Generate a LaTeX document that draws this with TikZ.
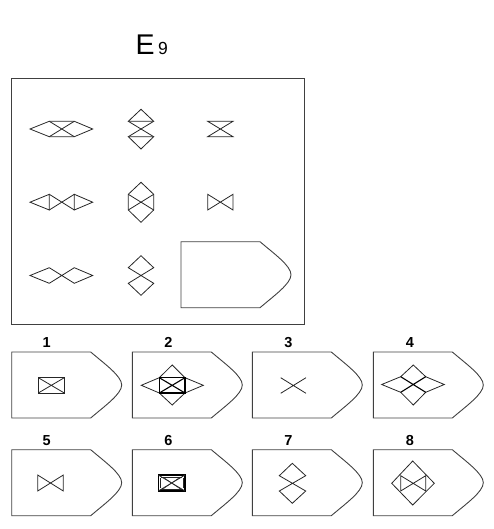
\documentclass[tikz,border=0pt]{standalone}
\usepackage{fontspec}
\setmainfont{Liberation Sans}
\begin{document}
\begin{tikzpicture}[x=1pt,y=-1pt,
  fig/.style={line width=0.8pt,draw=black!85,line join=miter},
  boxline/.style={line width=0.9pt,draw=black!75},
  thick fig/.style={line width=1.1pt,draw=black},
  lbl/.style={anchor=base,font=\bfseries\fontsize{14.5}{14.5}\selectfont,inner sep=0pt},
  ansbox/.pic={\draw[boxline] (0,0) -- (79,0) .. controls (93,12) and (110,24) .. (110,33)
     .. controls (110,42) and (93,54) .. (79,66) -- (0,66) -- cycle;}]
\useasboundingbox (0,0) rectangle (494,529);
% title
\node[anchor=base west,inner sep=0pt,font=\fontsize{28.5}{28.5}\selectfont] (tE) at (135.5,54.3) {E};
\node[anchor=base west,inner sep=0pt,font=\fontsize{17.5}{17.5}\selectfont] (t9) at (157.8,54.3) {9};
% main box
\draw[line width=1pt,draw=black!75] (11,79) rectangle (304.5,324);
% row 1
\draw[fig] (30,129) -- (49.3,121.3) -- (74.3,121.3) -- (92.7,129) -- (74.3,136.7) -- (49.3,136.7) -- cycle;
\draw[fig] (49.3,121.3) -- (74.3,136.7) (74.3,121.3) -- (49.3,136.7);
\draw[fig] (128.3,121.3) -- (141,109.3) -- (153.7,121.3) -- cycle;
\draw[fig] (128.3,136.7) -- (141,149) -- (153.7,136.7) -- cycle;
\draw[fig] (128.3,121.3) -- (153.7,136.7) (153.7,121.3) -- (128.3,136.7);
\draw[fig] (207.7,121.3) -- (233,121.3) -- (207.7,136.7) -- (233,136.7) -- cycle;
% row 2
\draw[fig] (30,202.2) -- (49.3,194.3) -- (49.3,210) -- cycle;
\draw[fig] (49.3,194.3) -- (74.3,210) (74.3,194.3) -- (49.3,210);
\draw[fig] (74.3,194.3) -- (92.7,202.2) -- (74.3,210) -- cycle;
\draw[fig] (141,182.3) -- (153.7,194.3) -- (153.7,210) -- (141,222.3) -- (128.3,210) -- (128.3,194.3) -- cycle;
\draw[fig] (128.3,194.3) -- (153.7,210) (153.7,194.3) -- (128.3,210);
\draw[fig] (207.7,194.3) -- (233,210) -- (233,194.3) -- (207.7,210) -- cycle;
% row 3
\draw[fig] (30,275.5) -- (49.3,267.7) -- (74.3,283.3) -- (92.7,275.5) -- (74.3,267.7) -- (49.3,283.3) -- cycle;
\draw[fig] (141,255.7) -- (153.7,267.7) -- (128.3,283.3) -- (141,295.3) -- (153.7,283.3) -- (128.3,267.7) -- cycle;
\pic at (181,241.7) {ansbox};
% answer boxes, row 1
\pic at (11.7,352) {ansbox};
\pic at (132.3,352) {ansbox};
\pic at (252.3,352) {ansbox};
\pic at (373.3,352) {ansbox};
\node[lbl] (l1) at (46.7,347.7) {1};
\node[lbl] (l2) at (168.3,347.7) {2};
\node[lbl] (l3) at (288.3,347.7) {3};
\node[lbl] (l4) at (410,347.7) {4};
% option 1
\draw[fig] (38.3,377.7) rectangle (64.3,393);
\draw[fig] (38.3,377.7) -- (64.3,393) (64.3,377.7) -- (38.3,393);
% option 2
\draw[fig] (159.3,377.7) -- (141.3,385.3) -- (159.3,393) -- (172.2,405) -- (185,393) -- (203.3,385.3) -- (185,377.7) -- (172.2,365) -- cycle;
\draw[thick fig] (159.3,377.7) rectangle (185,393);
\draw[thick fig] (159.3,377.7) -- (185,393) (185,377.7) -- (159.3,393);
% option 3
\draw[fig] (280.7,377.7) -- (306,393.3) (306,377.7) -- (280.7,393.3);
% option 4
\draw[fig] (381.7,384.5) -- (400.7,376.7) -- (413.3,365) -- (425.7,376.7) -- (444.3,384.5) -- (425.7,392.3) -- (413.3,405) -- (400.7,392.3) -- cycle;
\draw[thick fig] (400.7,376.7) -- (425.7,392.3) (425.7,376.7) -- (400.7,392.3);
% answer boxes, row 2
\pic at (11.7,449.7) {ansbox};
\pic at (132.3,449.7) {ansbox};
\pic at (252.3,449.7) {ansbox};
\pic at (373.3,449.7) {ansbox};
\node[lbl] (l5) at (46.7,445.4) {5};
\node[lbl] (l6) at (168.3,445.4) {6};
\node[lbl] (l7) at (288.3,445.4) {7};
\node[lbl] (l8) at (410,445.4) {8};
% option 5
\draw[fig] (37.7,475) -- (63.3,491) -- (63.3,475) -- (37.7,491) -- cycle;
% option 6
\draw[thick fig] (158.3,475) rectangle (185,491);
\draw[fig] (158.3,475) -- (185,491) (185,475) -- (158.3,491);
\draw[fig,line width=0.5pt] (161,477) -- (182.3,477) (161,489) -- (182.3,489);
\draw[fig,line width=0.5pt] (163,477) -- (171.6,483) -- (180.3,477) (163,489) -- (171.6,483) -- (180.3,489);
\draw[fig,line width=0.5pt] (160.3,478) -- (160.3,488) (183,478) -- (183,488);
% option 7
\draw[fig] (292.3,463.3) -- (305.7,475.7) -- (279.3,491) -- (292.3,503.3) -- (305.7,491) -- (279.3,475.7) -- cycle;
% option 8
\draw[fig] (412.7,461) -- (434.3,483.3) -- (412.7,505) -- (391.7,483.3) -- cycle;
\draw[fig] (400.7,475.7) -- (425.7,491) -- (425.7,475.7) -- (400.7,491) -- cycle;
\end{tikzpicture}
\end{document}
